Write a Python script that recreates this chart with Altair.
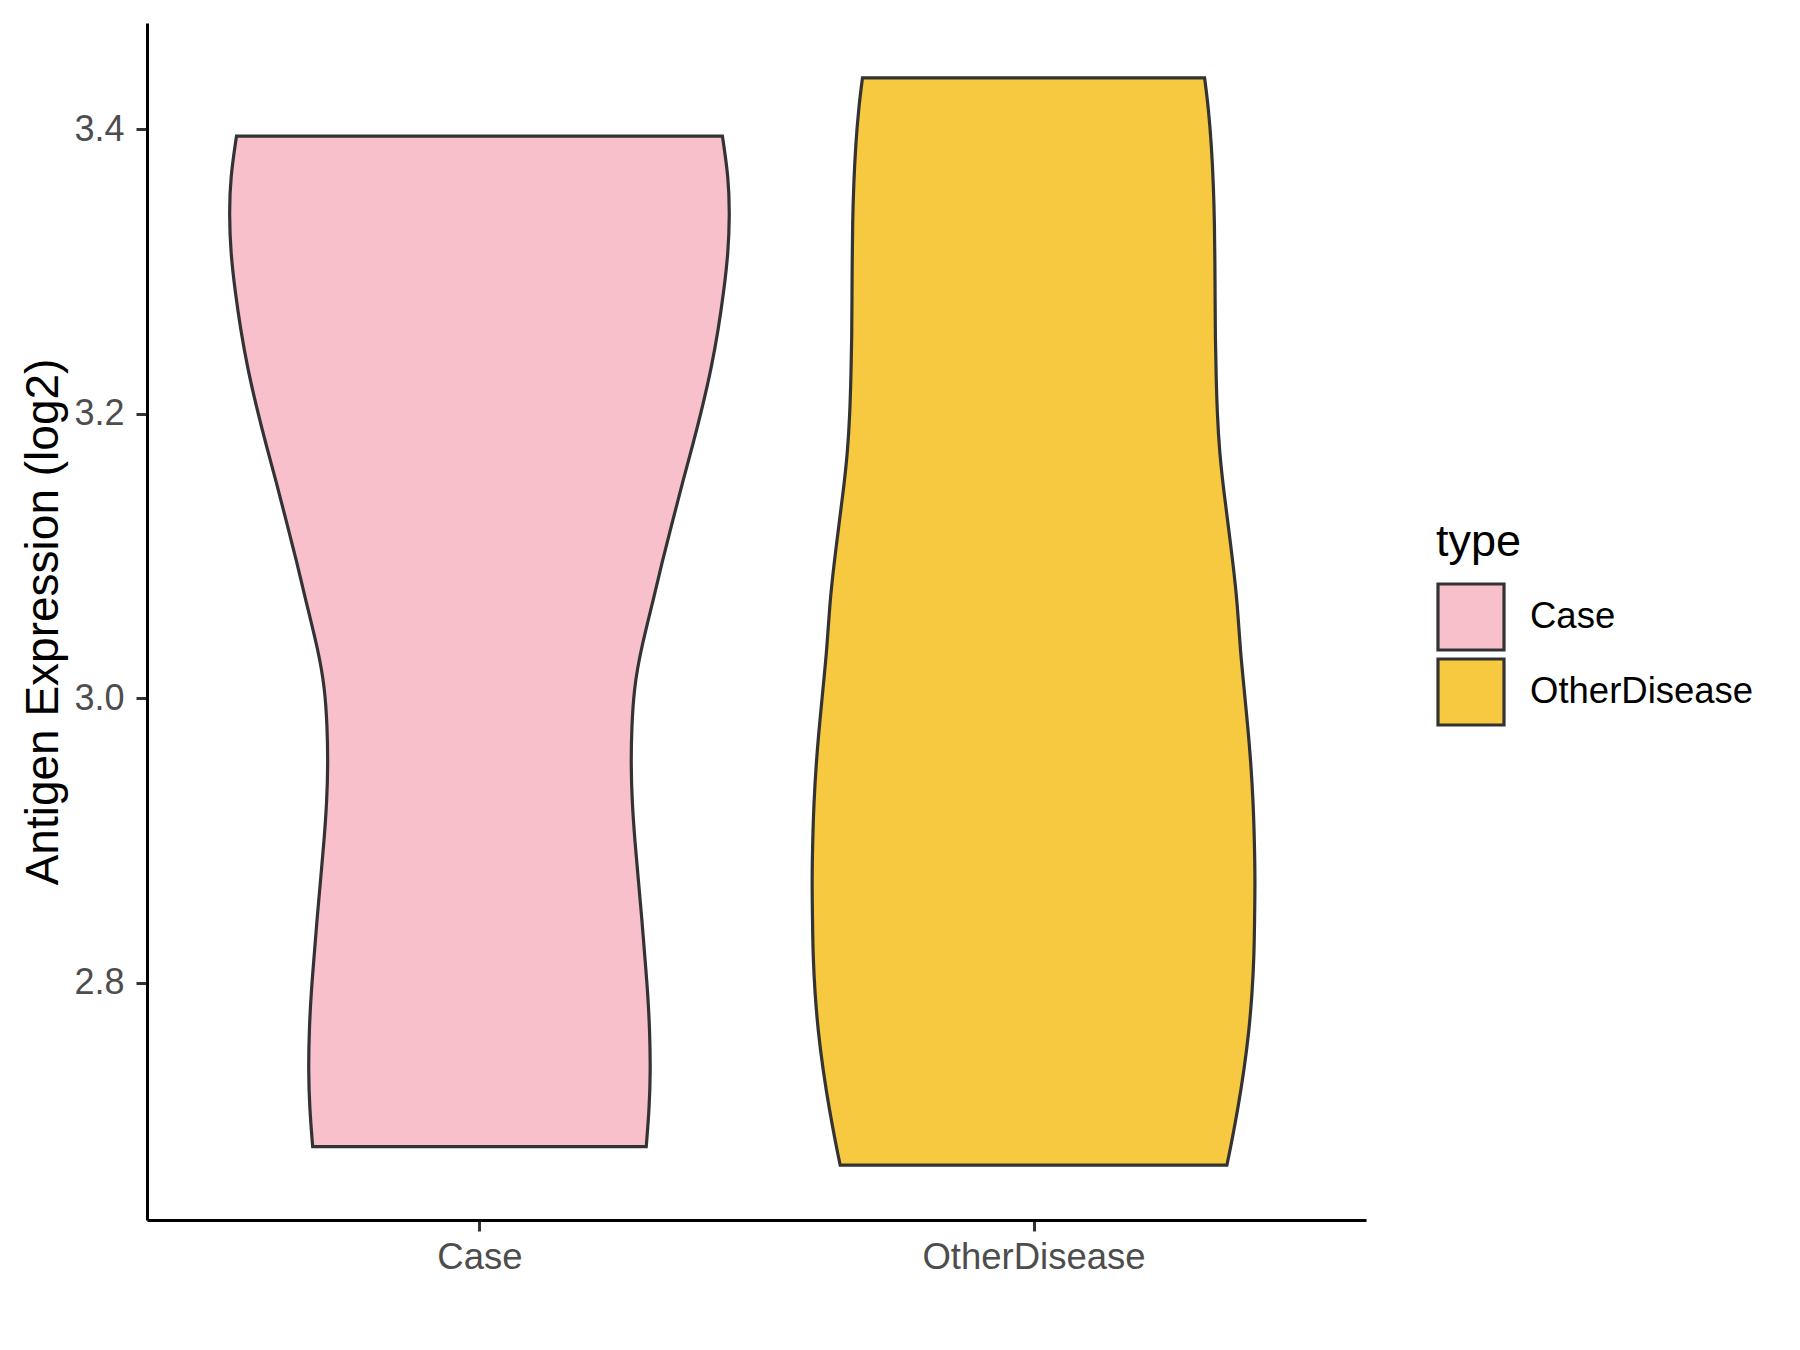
import json
import altair as alt
import pandas as pd

# ---- data ----
categories = ["Case", "OtherDisease"]
fill_colors = ["#F7C0CB", "#F6C940"]

# violin outline: expression value (log2) and half-width of the density (category units)
case_y = [2.685, 2.712, 2.739, 2.766, 2.792, 2.819, 2.846, 2.873, 2.900, 2.927,
          2.954, 2.980, 3.007, 3.034, 3.071, 3.098, 3.125, 3.152, 3.178, 3.205,
          3.232, 3.259, 3.286, 3.313, 3.340, 3.366, 3.395]
case_hw = [0.301, 0.3066, 0.3087, 0.3073, 0.304, 0.2983, 0.2929, 0.2866, 0.2804, 0.2755,
           0.2734, 0.2748, 0.279, 0.291, 0.315, 0.331, 0.349, 0.3667, 0.385, 0.4026,
           0.4185, 0.431, 0.441, 0.449, 0.4516, 0.4495, 0.4385]

other_y = [2.672, 2.685, 2.712, 2.739, 2.766, 2.792, 2.819, 2.846, 2.873, 2.900,
           2.927, 2.954, 2.980, 3.007, 3.034, 3.066, 3.093, 3.119, 3.146, 3.173,
           3.200, 3.227, 3.254, 3.281, 3.307, 3.334, 3.361, 3.388, 3.415, 3.436]
other_hw = [0.349, 0.356, 0.369, 0.380, 0.3888, 0.3944, 0.398, 0.399, 0.3999, 0.3986,
            0.3964, 0.3923, 0.3867, 0.380, 0.373, 0.368, 0.3605, 0.3522, 0.3432, 0.3356,
            0.3315, 0.3295, 0.328, 0.3277, 0.3273, 0.3266, 0.3246, 0.3212, 0.3156, 0.3087]

y_ticks = [2.8, 3.0, 3.2, 3.4]
y_domain = [2.6334, 3.4745]
x_domain = [0.4, 2.6]

rows = []
for i, (cat, ys, hws) in enumerate([(categories[0], case_y, case_hw),
                                     (categories[1], other_y, other_hw)]):
    center = i + 1
    for y, h in zip(ys, hws):
        rows.append({"type": cat, "value": y, "lo": center - h, "hi": center + h})
df = pd.DataFrame(rows)

FONT = "Liberation Sans"
W, H = 1219, 1197

label_expr = "%s[datum.value - 1]" % json.dumps(categories)

violins = alt.Chart(df).mark_area(
    orient="horizontal",
    interpolate="basis",
    stroke="#333333",
    strokeWidth=3.2,
    strokeJoin="miter",
    opacity=1,
    fillOpacity=1,
).encode(
    y=alt.Y(
        "value:Q",
        scale=alt.Scale(domain=y_domain, nice=False, zero=False),
        axis=alt.Axis(
            values=y_ticks,
            format=".1f",
            title="Antigen Expression (log2)",
            titleFontSize=46,
            titleFont=FONT,
            titleFontWeight="normal",
            titleColor="#000000",
            titleAngle=270,
            titleAlign="center",
            titleBaseline="alphabetic",
            titleX=-90,
            titleY=H / 2,
            labelFontSize=36,
            labelFont=FONT,
            labelColor="#4D4D4D",
            labelPadding=12,
            tickSize=11,
            tickWidth=3,
            tickColor="#333333",
            domainColor="#000000",
            domainWidth=3,
            grid=False,
        ),
    ),
    x=alt.X(
        "lo:Q",
        stack=None,
        scale=alt.Scale(domain=x_domain, nice=False, zero=False),
        axis=alt.Axis(
            values=[1, 2],
            labelExpr=label_expr,
            labelLimit=0,
            title=None,
            labelFontSize=36.5,
            labelFont=FONT,
            labelColor="#4D4D4D",
            labelPadding=8,
            tickSize=11,
            tickWidth=3,
            tickColor="#333333",
            domainColor="#000000",
            domainWidth=3,
            grid=False,
        ),
    ),
    x2="hi:Q",
    color=alt.Color(
        "type:N",
        scale=alt.Scale(domain=categories, range=fill_colors),
        legend=alt.Legend(
            title="type",
            orient="none",
            legendX=1289,
            legendY=497,
            titleFontSize=45,
            titleFont=FONT,
            titleFontWeight="normal",
            titleColor="#000000",
            titlePadding=17,
            labelFontSize=36.5,
            labelFont=FONT,
            labelColor="#000000",
            labelOffset=24,
            labelLimit=0,
            symbolType="square",
            symbolSize=4356,
            symbolStrokeWidth=3.2,
            symbolStrokeColor="#333333",
            symbolOpacity=1,
            rowPadding=-7,
        ),
    ),
)

chart = violins.properties(
    width=W,
    height=H,
    autosize=alt.AutoSizeParams(type="none"),
    padding={"left": 139, "top": 15, "right": 420, "bottom": 110},
    background="white",
).configure_view(stroke=None)

chart.save("out.html", embed_options={"renderer": "svg", "actions": False})
